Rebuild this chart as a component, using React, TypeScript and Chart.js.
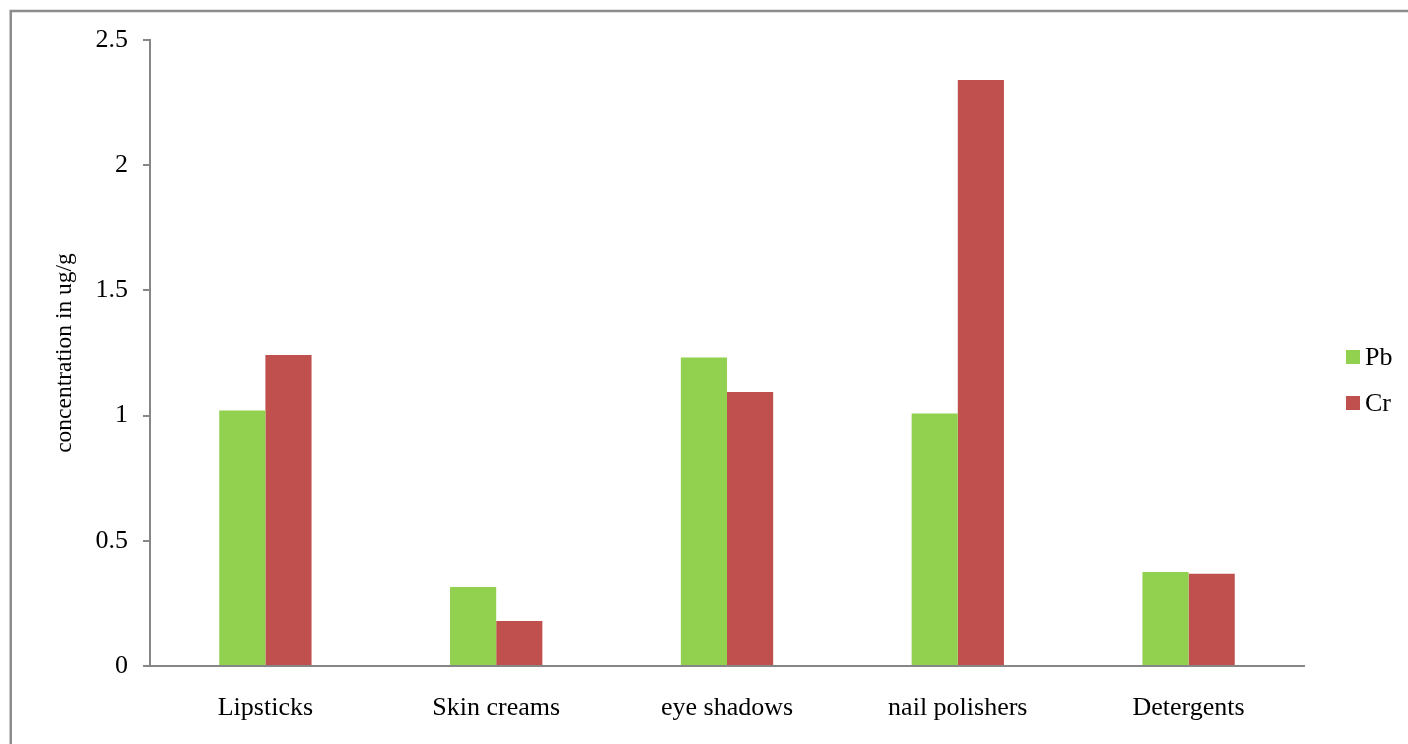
import React, { useEffect, useRef } from "react";
import { Chart, registerables } from "chart.js";

Chart.register(...registerables);

const categories = ["Lipsticks", "Skin creams", "eye shadows", "nail polishers", "Detergents"];
const pbValues = [1.02, 0.315, 1.232, 1.008, 0.375];
const crValues = [1.242, 0.18, 1.094, 2.34, 0.368];
const yTickLabels = ["0", "0.5", "1", "1.5", "2", "2.5"];
const seriesNames = ["Pb", "Cr"];
const seriesColors = ["#92D050", "#C0504D"];
const yTitle = "concentration in ug/g";

const FONT = "'Liberation Serif', 'Times New Roman', serif";
const GRAY = "#868686";

const framePlugin = {
  id: "frame",
  beforeDraw(chart: any) {
    const { ctx, width, height } = chart;
    ctx.save();
    ctx.fillStyle = "#ffffff";
    ctx.fillRect(0, 0, width, height);
    ctx.strokeStyle = "#8c8c8c";
    ctx.lineWidth = 2.5;
    ctx.beginPath();
    ctx.moveTo(10.75, height + 5);
    ctx.lineTo(10.75, 11);
    ctx.lineTo(width + 5, 11);
    ctx.stroke();
    ctx.restore();
  },
};

const legendPlugin = {
  id: "customLegend",
  afterDraw(chart: any) {
    const { ctx, chartArea } = chart;
    ctx.save();
    ctx.font = `26px ${FONT}`;
    ctx.textBaseline = "middle";
    ctx.textAlign = "left";
    const x = chartArea.right + 42;
    const startY = 357;
    const gap = 46;
    chart.data.datasets.forEach((ds: any, i: number) => {
      const cy = startY + i * gap;
      ctx.fillStyle = ds.backgroundColor;
      ctx.fillRect(x, cy - 7, 14, 14);
      ctx.fillStyle = "#000000";
      ctx.fillText(ds.label, x + 19, cy + 1);
    });
    ctx.restore();
  },
};

export default function App() {
  const canvasRef = useRef<HTMLCanvasElement | null>(null);

  useEffect(() => {
    if (!canvasRef.current) return;
    const chart = new Chart(canvasRef.current, {
      type: "bar",
      data: {
        labels: categories,
        datasets: [
          {
            label: seriesNames[0],
            data: pbValues,
            backgroundColor: seriesColors[0],
            barPercentage: 1,
            categoryPercentage: 0.4,
          },
          {
            label: seriesNames[1],
            data: crValues,
            backgroundColor: seriesColors[1],
            barPercentage: 1,
            categoryPercentage: 0.4,
          },
        ],
      },
      options: {
        animation: false,
        responsive: false,
        maintainAspectRatio: false,
        devicePixelRatio: 1,
        layout: { padding: { top: 40, right: 104, bottom: 0, left: 0 } },
        plugins: {
          legend: { display: false },
          tooltip: { enabled: false },
        },
        scales: {
          x: {
            grid: { display: false, drawTicks: false },
            border: { display: true, color: GRAY, width: 2 },
            ticks: {
              color: "#000000",
              font: { family: FONT, size: 26 },
              padding: 27,
              maxRotation: 0,
              autoSkip: false,
            },
            afterFit(scale: any) {
              scale.height = 78;
            },
          },
          y: {
            min: 0,
            max: 2.5,
            grid: {
              display: true,
              drawOnChartArea: false,
              drawTicks: true,
              tickLength: 7,
              color: GRAY,
              lineWidth: 2,
            },
            border: { display: true, color: GRAY, width: 2 },
            ticks: {
              stepSize: 0.5,
              color: "#000000",
              font: { family: FONT, size: 26 },
              padding: 15,
              callback: (_v: any, i: number) => yTickLabels[i],
            },
            title: {
              display: true,
              text: yTitle,
              color: "#000000",
              font: { family: FONT, size: 23.5 },
              padding: { top: 51, bottom: 0 },
            },
            afterFit(scale: any) {
              scale.width = 150;
            },
          },
        },
      },
      plugins: [framePlugin, legendPlugin],
    });
    return () => chart.destroy();
  }, []);

  return (
    <div style={{ position: "absolute", left: 0, top: 0, width: 1408, height: 744, overflow: "hidden", background: "#fff" }}>
      <canvas ref={canvasRef} width={1408} height={744} style={{ display: "block", width: 1408, height: 744 }} />
    </div>
  );
}
